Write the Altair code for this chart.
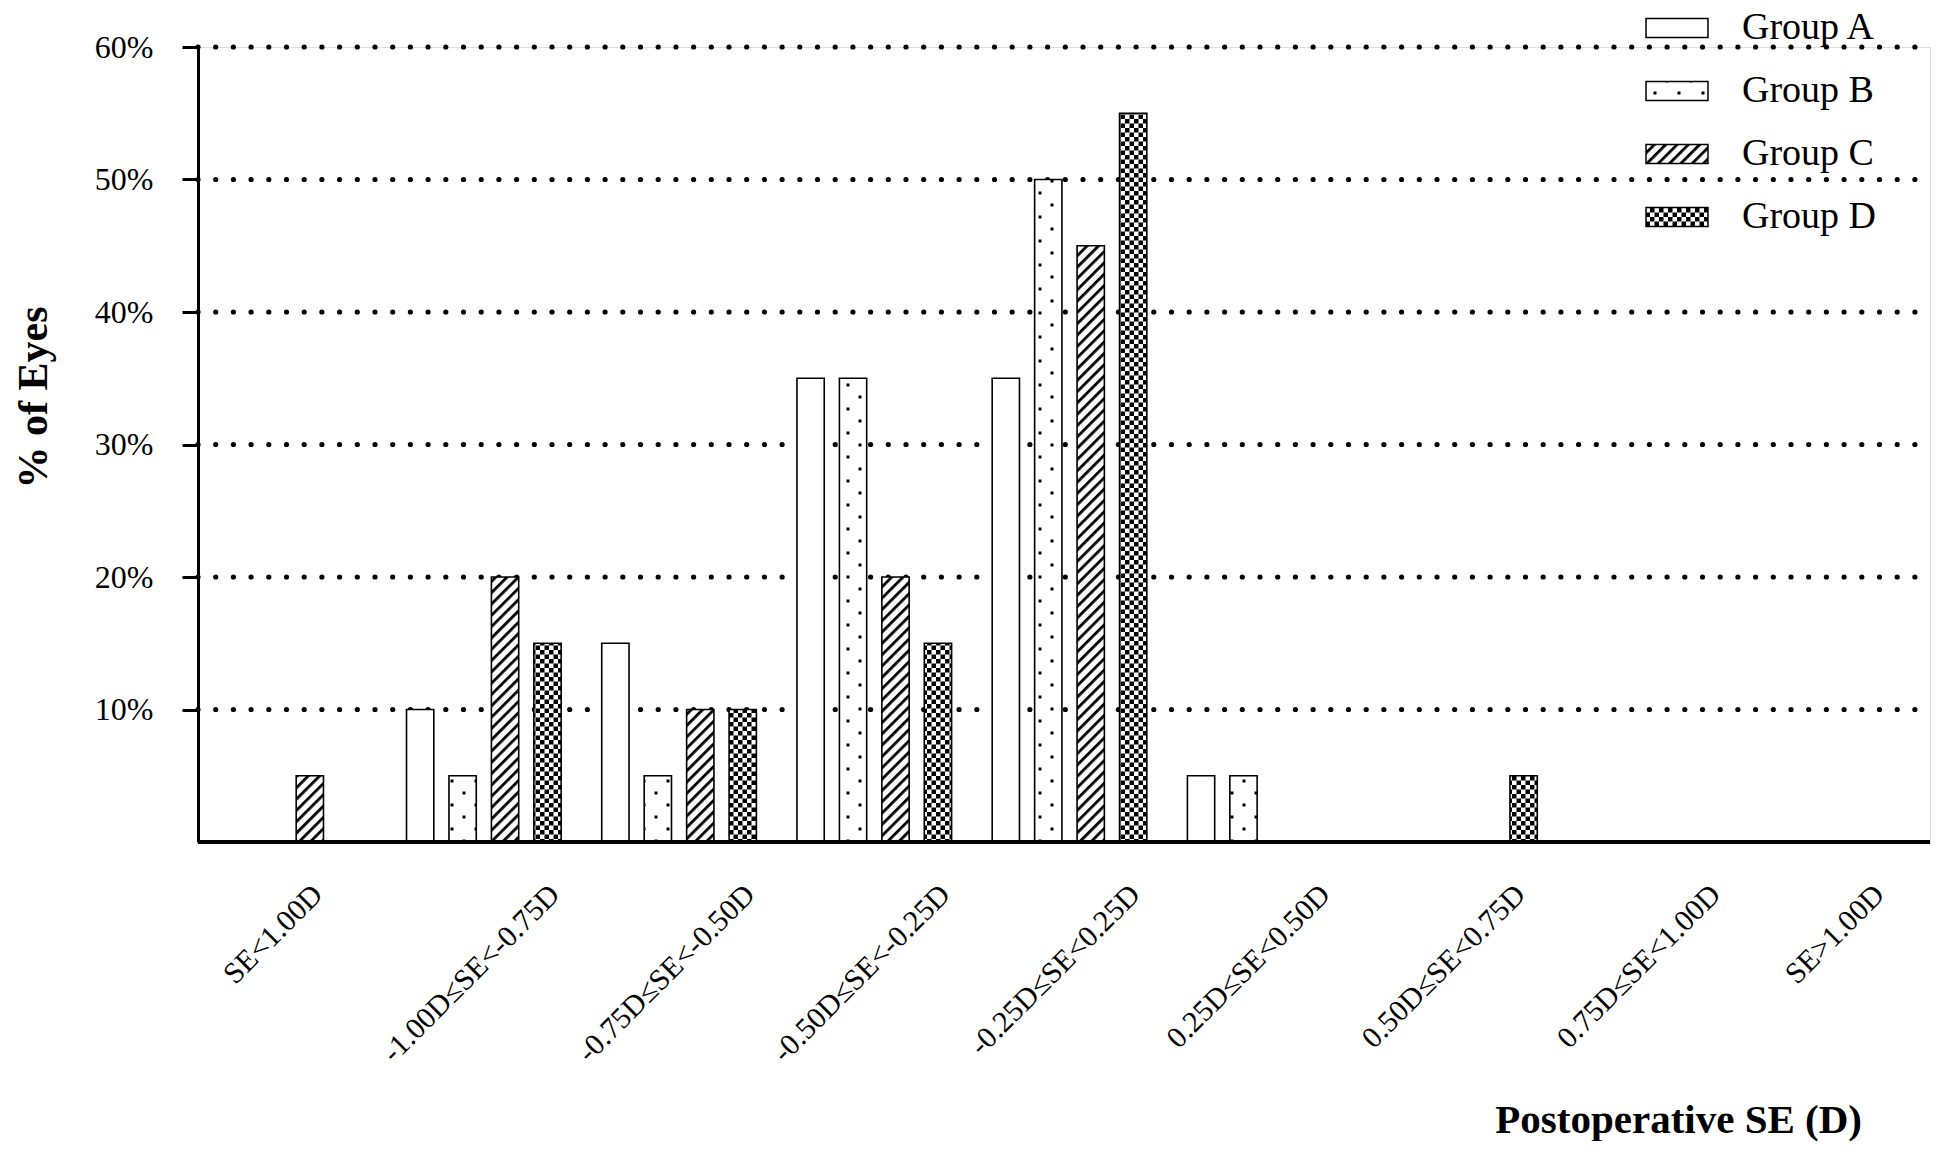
import altair as alt
import pandas as pd
import jinja2

# ---------------- data ----------------
categories = ["SE<1.00D", "-1.00D≤SE<-0.75D", "-0.75D≤SE<-0.50D", "-0.50D≤SE<-0.25D",
              "-0.25D≤SE<0.25D", "0.25D≤SE<0.50D", "0.50D≤SE<0.75D", "0.75D≤SE<1.00D",
              "SE>1.00D"]
groups = ["Group A", "Group B", "Group C", "Group D"]
group_a = [0, 10, 15, 35, 35, 5, 0, 0, 0]
group_b = [0, 5, 5, 35, 50, 5, 0, 0, 0]
group_c = [5, 20, 10, 20, 45, 0, 0, 0, 0]
group_d = [0, 15, 10, 15, 55, 0, 5, 0, 0]
y_ticks = [10, 20, 30, 40, 50, 60]

rows = []
for g, vals in zip(groups, [group_a, group_b, group_c, group_d]):
    for c, v in zip(categories, vals):
        rows.append({"cat": c, "group": g, "pct": v})
df = pd.DataFrame(rows)
cat_df = pd.DataFrame({"cat": categories})
tick_df = pd.DataFrame({"t": y_ticks})

# pattern fills (SVG paint servers defined in the page, with colour fallbacks)
fills = ["white", "url(#pB) #dddddd", "url(#pC) #999999", "url(#pD) #666666"]

SERIF = "Liberation Serif"
W, H = 1732, 795

x_scale = alt.Scale(domain=categories, range=[-7, 1750], paddingInner=0, paddingOuter=0)
y_scale = alt.Scale(domain=[0, 60], nice=False, zero=True)

# dotted horizontal gridlines across the plot width
grid = alt.Chart(tick_df).mark_rule(
    color="black", strokeWidth=5.2, strokeDash=[0, 17.7], strokeCap="round"
).encode(
    y=alt.Y("t:Q", scale=y_scale),
    x=alt.value(0),
    x2=alt.value(W),
)

bars = alt.Chart(df).transform_filter("datum.pct > 0").mark_bar(
    stroke="black", strokeWidth=1.6
).encode(
    x=alt.X("cat:N", sort=categories, scale=x_scale, axis=None),
    xOffset=alt.XOffset("group:N", sort=groups,
                        scale=alt.Scale(domain=groups, paddingInner=0.357, paddingOuter=0.478)),
    y=alt.Y("pct:Q", scale=y_scale,
            axis=alt.Axis(title="% of Eyes", values=y_ticks, grid=False,
                          labelExpr="datum.value + '%'",
                          labelFont=SERIF, labelFontSize=32, labelColor="black",
                          labelPadding=29, tickSize=16, tickWidth=3, tickColor="black",
                          domainColor="black", domainWidth=3,
                          titleFont=SERIF, titleFontSize=42, titleFontWeight="bold",
                          titleColor="black", titleAngle=270, titleX=-165, titleY=350,
                          titleAlign="center", titleBaseline="middle")),
    fill=alt.Fill("group:N", sort=groups,
                  scale=alt.Scale(domain=groups, range=fills),
                  legend=alt.Legend(title=None, orient="none", legendX=1460, legendY=-38,
                                    symbolType="M-3.26,-1L3.26,-1L3.26,1L-3.26,1Z",
                                    symbolSize=361, symbolStrokeColor="black",
                                    symbolStrokeWidth=1.5, symbolOpacity=1,
                                    labelFont=SERIF, labelFontSize=38, labelColor="black",
                                    labelOffset=46, rowPadding=25, padding=0)),
)

# x-axis base line across the plot width
baseline = alt.Chart(cat_df).mark_rule(color="black", strokeWidth=3.5).encode(
    y=alt.datum(0, scale=y_scale),
    x=alt.value(0),
    x2=alt.value(W),
)

# rotated category labels (Excel style: centred under the group, tops aligned)
labels = alt.Chart(cat_df).mark_text(
    angle=315, align="right", baseline="middle", font=SERIF, fontSize=30,
    color="black",
    dx=alt.expr("3.7*length(datum.cat) - 42.8"),
    dy=alt.expr("3.7*length(datum.cat) + 25.1"),
).encode(
    x=alt.X("cat:N", sort=categories, scale=x_scale, axis=None),
    y=alt.datum(0, scale=y_scale),
    text="cat:N",
)

chart = alt.layer(grid, bars, baseline, labels).properties(
    width=W, height=H,
    padding={"left": 4, "top": 1, "right": 0, "bottom": 0},
    title=alt.TitleParams("Postoperative SE (D)", orient="bottom", anchor="end",
                          frame="group", font=SERIF, fontSize=41, fontWeight="bold",
                          color="black", dx=-68, offset=33),
).configure_view(strokeWidth=0).configure(background="white")

PAGE = jinja2.Template("""<!DOCTYPE html>
<html>
<head>
<meta charset="utf-8">
<style>
  #{{ output_div }}.vega-embed { width: 100%; display: flex; }
</style>
<script type="text/javascript" src="{{ base_url }}/vega@{{ vega_version }}"></script>
<script type="text/javascript" src="{{ base_url }}/vega-lite@{{ vegalite_version }}"></script>
<script type="text/javascript" src="{{ base_url }}/vega-embed@{{ vegaembed_version }}"></script>
</head>
<body>
<svg width="0" height="0" style="position:absolute">
  <defs>
    <pattern id="pB" patternUnits="userSpaceOnUse" width="24" height="24">
      <rect x="0" y="0" width="24" height="24" fill="white"/>
      <rect x="0.5" y="0.5" width="3" height="3" fill="black"/>
      <rect x="12.5" y="12.5" width="3" height="3" fill="black"/>
    </pattern>
    <pattern id="pC" patternUnits="userSpaceOnUse" width="8" height="8" patternTransform="rotate(45)">
      <rect x="0" y="0" width="8" height="8" fill="white"/>
      <rect x="0" y="0" width="2.8" height="8" fill="black"/>
    </pattern>
    <pattern id="pD" patternUnits="userSpaceOnUse" width="9" height="9">
      <rect x="0" y="0" width="9" height="9" fill="white"/>
      <rect x="0" y="0" width="4.5" height="4.5" fill="black"/>
      <rect x="4.5" y="4.5" width="4.5" height="4.5" fill="black"/>
    </pattern>
  </defs>
</svg>
<div id="{{ output_div }}"></div>
<script>
  (function(vegaEmbed) {
    var spec = {{ spec }};
    var embedOpt = {{ embed_options }};
    vegaEmbed("#{{ output_div }}", spec, embedOpt).catch(function(e){ console.error(e); });
  })(vegaEmbed);
</script>
</body>
</html>
""")

try:
    chart.save("out.html", embed_options={"renderer": "svg", "actions": False}, template=PAGE)
except Exception:
    chart.save("out.html", embed_options={"renderer": "svg", "actions": False})
